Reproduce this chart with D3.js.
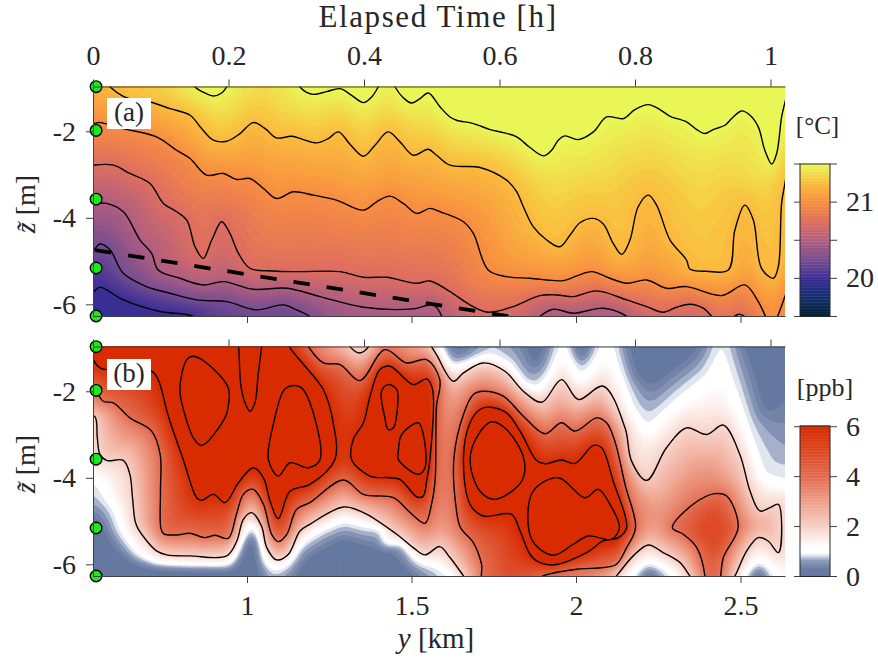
<!DOCTYPE html>
<html>

<head>
  <meta charset="utf-8">
  <script src="https://cdnjs.cloudflare.com/ajax/libs/d3/7.8.5/d3.min.js"></script>
  <style>
    html, body { margin: 0; padding: 0; background: #fff; }
    svg { display: block; }
    text { font-family: "Liberation Serif", serif; fill: #262626; }
  </style>
</head>

<body>
  <svg></svg>

  <script>
    // axis ticks
    var timeTicks = [0, 0.2, 0.4, 0.6, 0.8, 1];
    var distTicks = [1, 1.5, 2, 2.5];
    var depthTicks = [-6, -4, -2];
    var tempTicks = [19.5, 20, 20.5, 21, 21.5];
    var tempTickLabels = [20, 21];
    var ppbTicks = [0, 2, 4, 6];

    // sensor depths [m] and the dashed track [km, m]
    var sensorDepths = [-0.97, -1.98, -3.57, -5.16, -6.27];
    var sensorDist = 0.5413;
    var trackDist = [0.538, 1.814];
    var trackDepth = [-4.745, -6.3];

    // colormaps
    var tempStops = [19.5, 19.75, 20, 20.25, 20.5, 20.75, 21, 21.25, 21.5];
    var tempColors = ["#03222f", "#132f6e", "#3b2f97", "#7a4e90", "#b25f80", "#df6f5e", "#f88f40", "#fbbd3e", "#e8fb58"];
    var ppbStops = [0, 0.25, 0.45, 0.65, 0.8, 0.95, 1.2, 2, 3, 4, 5, 6];
    var ppbColors = ["#6478a0", "#6478a0", "#7787ab", "#8f9dbc", "#d0d8e6", "#ffffff", "#ffffff", "#f7d0c6", "#ee9f8a", "#e36c50", "#dd4a25", "#d92b00"];

    // isotherms: [distance km, depth m], warmer above the line
    var iso2150 = [[0.49,-0.7],[0.817,-0.7],[0.842,-0.976],[0.872,-1.115],[0.898,-1.184],[0.923,-1.115],[0.938,-0.976],[0.958,-0.7],[1.141,-0.7],[1.161,-0.976],[1.181,-1.1],[1.202,-1.146],[1.242,-1.084],[1.283,-1.015],[1.318,-1.169],[1.354,-1.338],[1.379,-1.207],[1.399,-0.976],[1.419,-0.7],[1.435,-0.7],[1.45,-0.976],[1.475,-1.223],[1.5,-1.346],[1.526,-1.246],[1.551,-1.115],[1.587,-1.438],[1.617,-1.669],[1.637,-1.745],[1.688,-1.822],[1.739,-1.961],[1.779,-2.03],[1.82,-2.13],[1.86,-2.376],[1.901,-2.568],[1.926,-2.438],[1.946,-2.207],[1.966,-2.107],[2.007,-2.192],[2.053,-2.015],[2.093,-1.669],[2.144,-1.707],[2.179,-1.499],[2.22,-1.384],[2.255,-1.499],[2.286,-1.653],[2.336,-1.784],[2.367,-1.961],[2.392,-2.053],[2.417,-1.961],[2.453,-1.861],[2.473,-1.707],[2.503,-1.53],[2.529,-1.63],[2.554,-1.899],[2.574,-2.438],[2.595,-2.76],[2.61,-2.515],[2.625,-1.669],[2.635,-1.338],[2.65,-0.9]];
    var iso2125 = [[0.49,-0.7],[0.553,-0.7],[0.584,-0.976],[0.624,-1.192],[0.665,-1.284],[0.705,-1.323],[0.766,-1.476],[0.827,-1.63],[0.862,-1.938],[0.898,-2.207],[0.938,-2.23],[0.979,-2.053],[1.019,-1.799],[1.055,-1.938],[1.09,-2.153],[1.136,-2.115],[1.171,-2.192],[1.212,-2.268],[1.247,-2.168],[1.278,-2.015],[1.313,-2.299],[1.354,-2.576],[1.389,-2.322],[1.429,-2.015],[1.465,-2.245],[1.506,-2.553],[1.551,-2.415],[1.576,-2.553],[1.617,-2.784],[1.708,-2.837],[1.789,-3.13],[1.82,-3.399],[1.84,-3.745],[1.87,-4.206],[1.911,-4.514],[1.951,-4.668],[1.982,-4.399],[2.012,-4.114],[2.053,-4.014],[2.083,-4.145],[2.113,-4.591],[2.139,-4.845],[2.164,-4.514],[2.189,-3.745],[2.22,-3.476],[2.245,-3.706],[2.286,-4.514],[2.336,-4.975],[2.346,-5.183],[2.397,-5.237],[2.463,-5.206],[2.483,-4.283],[2.513,-3.706],[2.539,-4.052],[2.564,-5.168],[2.6,-5.398],[2.615,-5.129],[2.625,-3.668],[2.635,-3.207],[2.65,-2.515]];
    var iso2100 = [[0.492,-1.861],[0.533,-1.822],[0.553,-1.799],[0.624,-1.938],[0.725,-2.13],[0.786,-2.438],[0.827,-2.63],[0.877,-3.014],[0.928,-2.976],[0.969,-3.114],[1.009,-3.091],[1.05,-3.322],[1.09,-3.553],[1.141,-3.399],[1.202,-3.476],[1.272,-3.591],[1.354,-3.822],[1.394,-3.63],[1.434,-3.499],[1.475,-3.668],[1.516,-3.899],[1.556,-3.783],[1.587,-3.86],[1.658,-4.091],[1.688,-4.36],[1.733,-5.206],[1.789,-5.36],[1.86,-5.398],[1.962,-5.452],[2.002,-5.344],[2.048,-5.244],[2.103,-5.398],[2.154,-5.514],[2.215,-5.437],[2.275,-5.629],[2.336,-5.591],[2.443,-5.798],[2.513,-5.552],[2.554,-5.936],[2.579,-6.32],[2.595,-6.51],[2.61,-6.32],[2.635,-5.821],[2.65,-5.51]];
    var iso2075 = [[0.492,-2.86],[0.533,-2.784],[0.594,-2.784],[0.644,-2.976],[0.705,-3.207],[0.746,-3.668],[0.786,-3.86],[0.817,-4.053],[0.842,-4.668],[0.867,-4.937],[0.893,-4.514],[0.923,-4.091],[0.948,-4.36],[0.974,-4.822],[1.009,-5.168],[1.08,-5.229],[1.151,-5.245],[1.283,-5.245],[1.354,-5.375],[1.424,-5.375],[1.516,-5.514],[1.556,-5.46],[1.617,-5.706],[1.678,-6.014],[1.733,-6.183],[1.809,-6.052],[1.89,-5.798],[1.941,-5.783],[1.992,-5.821],[2.063,-5.69],[2.154,-5.898],[2.215,-6.052],[2.265,-6.183],[2.306,-6.067],[2.346,-5.998],[2.387,-6.09],[2.417,-6.32],[2.448,-6.55],[2.473,-6.32],[2.498,-6.23],[2.519,-6.32],[2.544,-6.55],[2.65,-6.55]];
    var iso2050 = [[0.492,-3.706],[0.533,-3.668],[0.573,-3.668],[0.624,-3.86],[0.675,-4.514],[0.71,-4.822],[0.73,-5.206],[0.796,-5.398],[0.867,-5.552],[0.928,-5.475],[1.019,-5.652],[1.121,-5.629],[1.222,-5.821],[1.354,-6.067],[1.505,-6.106],[1.566,-6.013],[1.592,-6.28],[1.597,-6.55],[1.86,-6.55],[1.89,-6.28],[1.931,-6.113],[1.992,-6.206],[2.083,-6.09],[2.154,-6.28],[2.184,-6.55],[2.65,-6.55]];
    var iso2025 = [[0.492,-4.822],[0.533,-4.745],[0.553,-4.606],[0.584,-4.745],[0.624,-5.283],[0.695,-5.591],[0.766,-5.744],[0.847,-5.898],[0.938,-5.937],[1.029,-6.129],[1.11,-6.013],[1.151,-6.129],[1.191,-6.28],[1.222,-6.55],[2.65,-6.55]];
    var iso2000 = [[0.492,-5.744],[0.533,-5.706],[0.553,-5.606],[0.624,-5.898],[0.735,-6.167],[0.837,-6.28],[0.867,-6.55],[2.65,-6.55]];

    // concentration isolines: closed rings, above the level inside
    var ppb2Rings = [
      [[0.513,-2.537],[0.538,-2.591],[0.545,-3.076],[0.553,-3.46],[0.573,-3.598],[0.624,-3.598],[0.644,-3.921],[0.652,-4.46],[0.66,-5],[0.67,-5.19],[0.725,-5.69],[0.756,-5.782],[0.827,-5.805],[0.938,-5.805],[0.969,-5.46],[0.989,-4.96],[1.014,-4.806],[1.044,-5.113],[1.06,-5.613],[1.09,-5.898],[1.126,-5.767],[1.161,-5.229],[1.191,-5.075],[1.293,-4.675],[1.354,-4.806],[1.455,-5.306],[1.505,-5.613],[1.541,-5.782],[1.586,-5.59],[1.617,-5.844],[1.658,-6.267],[1.673,-6.42],[2.103,-6.42],[2.123,-6.267],[2.174,-5.805],[2.22,-5.552],[2.265,-5.729],[2.316,-5.96],[2.346,-6.267],[2.362,-6.42],[2.468,-6.42],[2.483,-6.267],[2.519,-5.69],[2.554,-5.383],[2.584,-5.46],[2.615,-5.729],[2.625,-5.075],[2.615,-4.613],[2.59,-4.69],[2.559,-4.767],[2.529,-4.306],[2.498,-3.46],[2.448,-2.783],[2.397,-3],[2.336,-2.845],[2.275,-3.306],[2.215,-4.06],[2.169,-3.614],[2.149,-2.845],[2.083,-1.883],[2.007,-2.191],[1.956,-1.73],[1.896,-2.253],[1.84,-1.999],[1.784,-1.537],[1.718,-1.345],[1.658,-1.576],[1.627,-1.768],[1.576,-1.153],[1.561,-0.968],[1.551,-0.8],[1.369,-0.8],[1.369,-0.968],[1.343,-1.114],[1.313,-0.968],[1.303,-0.8],[0.492,-0.8],[0.492,-2.23]]
    ];
    var ppb4Rings = [
      [[0.492,-0.8],[0.492,-1.845],[0.533,-1.922],[0.563,-2.23],[0.594,-2.268],[0.644,-2.614],[0.71,-2.922],[0.736,-3.46],[0.737,-4.306],[0.738,-5.152],[0.746,-5.29],[0.786,-5.321],[0.827,-5.283],[0.872,-5.383],[0.903,-5.329],[0.943,-5.398],[0.968,-4.844],[0.989,-4.383],[1.019,-4.267],[1.05,-4.613],[1.075,-5.306],[1.095,-5.475],[1.121,-5.306],[1.151,-4.729],[1.191,-4.575],[1.293,-4.052],[1.354,-4.383],[1.445,-4.46],[1.495,-4.798],[1.541,-5.052],[1.562,-4.567],[1.572,-4.037],[1.574,-3],[1.576,-2.345],[1.586,-1.73],[1.546,-1.268],[1.485,-1.345],[1.419,-1.038],[1.343,-1.753],[1.283,-1.384],[1.232,-1.345],[1.186,-0.96],[1.176,-0.8]],
      [[1.718,-6.42],[1.713,-5.998],[1.688,-5.498],[1.649,-5.152],[1.637,-4.767],[1.629,-3.537],[1.658,-2.537],[1.688,-2.076],[1.718,-2],[1.779,-2.114],[1.84,-2.576],[1.906,-2.983],[1.956,-2.729],[1.997,-2.922],[2.063,-2.614],[2.093,-2.729],[2.118,-3.152],[2.149,-4.152],[2.181,-5.152],[2.154,-5.613],[2.123,-5.998],[2.083,-6.075],[2.002,-6.113],[1.9,-6.267],[1.87,-6.42]],
      [[2.293,-5.152],[2.356,-4.613],[2.422,-4.367],[2.458,-4.421],[2.493,-5.136],[2.448,-5.844],[2.44,-6.267],[2.438,-6.42],[2.392,-6.42],[2.392,-6.267],[2.367,-5.613],[2.326,-5.306]]
    ];
    var ppb6Rings = [
      [[1.12,-0.8],[1.131,-0.999],[1.181,-1.46],[1.232,-1.96],[1.262,-2.729],[1.267,-3.575],[1.191,-4.152],[1.131,-4.306],[1.095,-4.944],[1.07,-4.536],[1.05,-4],[1.019,-3.768],[0.974,-4.114],[0.933,-4.575],[0.898,-4.383],[0.862,-4.521],[0.847,-4.46],[0.806,-3.575],[0.761,-2.576],[0.73,-1.73],[0.71,-1.537],[0.573,-1.499],[0.553,-1.46],[0.533,-1.268],[0.528,-1.153],[0.492,-1.153],[0.492,-0.8]],
      [[1.318,-3.575],[1.323,-3.114],[1.354,-2.729],[1.374,-2.114],[1.404,-1.499],[1.435,-1.422],[1.505,-1.845],[1.546,-1.714],[1.564,-1.96],[1.556,-3.575],[1.547,-4.037],[1.535,-4.429],[1.517,-4.444],[1.465,-4.037],[1.435,-3.998],[1.374,-3.96]],
      [[1.658,-3.537],[1.678,-2.729],[1.708,-2.422],[1.739,-2.368],[1.789,-2.499],[1.83,-2.922],[1.88,-3.598],[1.906,-3.675],[1.956,-3.59],[1.997,-3.668],[2.053,-3.252],[2.078,-3.306],[2.113,-4.075],[2.154,-5.152],[2.129,-5.383],[2.083,-5.46],[2.032,-5.729],[1.931,-6.013],[1.88,-5.921],[1.86,-5.767],[1.83,-5.229],[1.804,-4.844],[1.718,-4.883],[1.678,-4.613]]
    ];
    var ppb8Rings = [
      [[0.796,-1.96],[0.817,-1.268],[0.837,-1.191],[0.877,-1.345],[0.943,-1.922],[0.943,-2.345],[0.933,-2.614],[0.862,-3.252],[0.837,-3.076],[0.811,-2.537]],
      [[0.968,-0.8],[0.974,-0.968],[0.981,-1.845],[0.994,-2.268],[1.009,-2.46],[1.024,-2.268],[1.034,-1.614],[1.045,-0.968],[1.05,-0.8]],
      [[1.065,-3.575],[1.08,-2.768],[1.11,-1.999],[1.126,-1.891],[1.166,-1.922],[1.222,-3.575],[1.186,-3.768],[1.131,-3.652],[1.095,-3.96]],
      [[1.409,-1.999],[1.429,-1.845],[1.455,-1.96],[1.455,-2.537],[1.445,-2.845],[1.429,-2.883],[1.419,-2.614]],
      [[1.46,-3.383],[1.47,-3],[1.521,-2.729],[1.536,-3],[1.541,-3.768],[1.521,-3.921],[1.46,-3.575]],
      [[1.678,-3.575],[1.703,-3],[1.744,-2.706],[1.789,-2.883],[1.842,-3.575],[1.835,-4.075],[1.754,-4.498],[1.708,-4.306]],
      [[1.855,-5.113],[1.87,-4.306],[1.946,-3.998],[2.027,-4.46],[2.068,-4.267],[2.103,-4.613],[2.132,-5.152],[2.108,-5.421],[2.037,-5.344],[1.992,-5.536],[1.931,-5.79],[1.875,-5.536]]
    ];

    // levels that only shape the colour field, these have no line in the reference
    var ppb5Rings = [
      [[2.367,-5.228],[2.422,-4.767],[2.458,-5.228],[2.422,-5.69]]
    ];
    var ppb1Rings = [
      [[0.492,-4.075],[0.538,-4.075],[0.563,-4.46],[0.594,-4.767],[0.614,-5.229],[0.665,-5.767],[0.725,-6.013],[0.827,-6.036],[0.938,-6.036],[0.968,-5.844],[0.989,-5.383],[0.999,-5.152],[1.014,-5.09],[1.029,-5.152],[1.039,-5.46],[1.05,-5.921],[1.08,-6.136],[1.121,-6.036],[1.161,-5.536],[1.222,-5.229],[1.293,-4.998],[1.354,-5.113],[1.445,-5.152],[1.475,-5.46],[1.516,-5.921],[1.576,-6.075],[1.627,-6.305],[1.647,-6.42],[2.154,-6.42],[2.174,-6.267],[2.22,-5.96],[2.265,-6.113],[2.296,-6.305],[2.316,-6.42],[2.498,-6.42],[2.513,-6.267],[2.554,-5.921],[2.59,-6.151],[2.605,-6.42],[2.655,-6.42],[2.655,-4.114],[2.635,-4.075],[2.569,-3.921],[2.529,-2.922],[2.473,-1.537],[2.453,-0.968],[2.448,-0.8],[2.435,-0.8],[2.432,-0.968],[2.397,-1.576],[2.306,-2.153],[2.215,-2.845],[2.174,-2.383],[2.134,-1.46],[2.118,-0.968],[2.113,-0.8],[2.073,-0.8],[2.068,-0.968],[2.053,-1.23],[2.012,-1.691],[1.977,-0.968],[1.972,-0.8],[1.951,-0.8],[1.946,-0.968],[1.916,-1.614],[1.885,-1.96],[1.84,-1.845],[1.799,-1.384],[1.739,-1.153],[1.658,-1.384],[1.617,-1.46],[1.587,-0.968],[1.581,-0.8],[0.492,-0.8]]
    ];
    var ppbLowRings = [
      [[0.4,0],[2.8,0],[2.8,-7],[0.4,-7]],
      [[0.492,-5],[0.538,-5],[0.573,-5.46],[0.604,-5.806],[0.665,-6.075],[0.938,-6.167],[0.968,-6.19],[1.004,-5.46],[1.024,-5.46],[1.029,-6.074],[1.029,-6.42],[0.492,-6.42]],
      [[1.141,-6.42],[1.191,-5.92],[1.293,-5.5],[1.364,-5.69],[1.434,-5.767],[1.48,-6.167],[1.516,-6.42]],
      [[2.205,-6.42],[2.22,-6.2],[2.245,-6.42]],
      [[2.54,-6.42],[2.554,-6.2],[2.57,-6.42]],
      [[1.617,-0.8],[1.642,-1.038],[1.673,-0.8]],
      [[1.86,-0.8],[1.88,-1.268],[1.901,-0.8]],
      [[1.997,-0.8],[2.014,-1.153],[2.037,-0.8]],
      [[2.164,-0.8],[2.194,-1.537],[2.225,-1.73],[2.286,-1.384],[2.356,-0.999],[2.367,-0.8]],
      [[2.518,-0.8],[2.554,-1.537],[2.584,-2.345],[2.63,-1.845],[2.655,-1.845],[2.655,-0.8]]
    ];

    var svgWidth = 878;
    var svgHeight = 665;
    var svg = d3.select("svg").attr("width", svgWidth).attr("height", svgHeight);

    var left = 93, right = 785;
    var topA = 86.5, botA = 316;
    var topB = 346.5, botB = 576;

    var xScale = d3.scaleLinear().domain([0.5319, 2.6353]).range([left, right]);
    var tScale = d3.scaleLinear().domain([0, 1.0214]).range([left, right]);
    var zScaleA = d3.scaleLinear().domain([-6.27, -0.965]).range([botA, topA]);
    var zScaleB = d3.scaleLinear().domain([-6.27, -0.965]).range([botB, topB]);

    var tempColor = d3.scaleLinear().domain(tempStops).range(tempColors).clamp(true);
    var ppbColor = d3.scaleLinear().domain(ppbStops).range(ppbColors).clamp(true);

    var defs = svg.append("defs");

    // distance of a point to a segment, squared
    function segDist2(px, py, s) {
      var dx = s[2] - s[0], dy = s[3] - s[1];
      var len = dx * dx + dy * dy;
      var u = len > 0 ? ((px - s[0]) * dx + (py - s[1]) * dy) / len : 0;
      u = u < 0 ? 0 : u > 1 ? 1 : u;
      var ex = s[0] + u * dx - px, ey = s[1] + u * dy - py;
      return ex * ex + ey * ey;
    }

    // rebuild a value grid from the isolines: between two levels the value goes
    // with the distances to both. layers = [{level, polys}] ascending
    function buildField(layers, zScale, step) {
      var y0 = zScale.range()[1], y1 = zScale.range()[0];
      var nx = Math.ceil((right - left) / step) + 1;
      var ny = Math.ceil((y1 - y0) / step) + 1;

      layers.forEach(function(layer) {
        layer.pixPolys = layer.polys.map(function(p) {
          return p.map(function(d) { return [xScale(d[0]), zScale(d[1])]; });
        });
        layer.segs = [];
        layer.pixPolys.forEach(function(p) {
          p.forEach(function(a, i) {
            var b = p[(i + 1) % p.length];
            var inA = a[0] >= left && a[0] <= right && a[1] >= y0 && a[1] <= y1;
            var inB = b[0] >= left && b[0] <= right && b[1] >= y0 && b[1] <= y1;
            if (inA || inB) layer.segs.push([a[0], a[1], b[0], b[1]]);
          });
        });
      });

      var values = new Float64Array(nx * ny);
      for (var j = 0; j < ny; j++) {
        for (var i = 0; i < nx; i++) {
          var px = left + i * step, py = y0 + j * step;
          var floor = -1;
          for (var k = layers.length - 1; k >= 0 && floor < 0; k--) {
            var inside = false;
            layers[k].pixPolys.forEach(function(p) {
              if (d3.polygonContains(p, [px, py])) inside = !inside;
            });
            if (inside) floor = k;
          }
          var v;
          if (floor < 0) {
            v = layers[0].level;
          } else {
            var dLow = Infinity, dUp = Infinity, upLevel = null;
            layers[floor].segs.forEach(function(s) {
              var d = segDist2(px, py, s);
              if (d < dLow) dLow = d;
            });
            for (var m = floor + 1; m < layers.length; m++) {
              for (var q = 0; q < layers[m].segs.length; q++) {
                var du = segDist2(px, py, layers[m].segs[q]);
                if (du < dUp) { dUp = du; upLevel = layers[m].level; }
              }
            }
            if (upLevel === null || dLow === Infinity) {
              v = layers[floor].level;
            } else {
              var a = Math.sqrt(dLow), b = Math.sqrt(dUp);
              v = layers[floor].level + (upLevel - layers[floor].level) * a / (a + b);
            }
          }
          values[j * nx + i] = v;
        }
      }
      if (d3.blur2) d3.blur2({data: values, width: nx, height: ny}, 1);
      return {values: values, nx: nx, ny: ny};
    }

    function drawPanel(name, field, thresholds, color, zScale, step) {
      var y0 = zScale.range()[1], y1 = zScale.range()[0];

      defs.append("clipPath").attr("id", "clip-" + name)
        .append("rect").attr("x", left).attr("y", y0)
        .attr("width", right - left).attr("height", y1 - y0);

      var g = svg.append("g").attr("clip-path", "url(#clip-" + name + ")");

      g.append("rect").attr("x", left).attr("y", y0)
        .attr("width", right - left).attr("height", y1 - y0)
        .attr("fill", color(thresholds[0]));

      var contours = d3.contours().size([field.nx, field.ny]).thresholds(thresholds)(Array.from(field.values));
      var toPixels = d3.geoTransform({
        point: function(x, y) {
          this.stream.point(left + (x - 0.5) * step, y0 + (y - 0.5) * step);
        }
      });
      var path = d3.geoPath(toPixels);

      g.selectAll("path.band").data(contours).enter().append("path")
        .attr("class", "band")
        .attr("d", path)
        .attr("fill", function(d) { return color(d.value); });

      return g;
    }

    function drawAxes(zScale, showTimeLabels, showDistLabels) {
      var y0 = zScale.range()[1], y1 = zScale.range()[0];

      var topAxis = d3.axisTop(tScale).tickValues(timeTicks).tickSize(7).tickSizeOuter(0).tickPadding(15)
        .tickFormat(showTimeLabels ? function(d) { return d; } : "");
      var bottomAxis = d3.axisBottom(xScale).tickValues(distTicks).tickSize(7).tickSizeOuter(0).tickPadding(12)
        .tickFormat(showDistLabels ? function(d) { return d; } : "");
      var leftAxis = d3.axisLeft(zScale).tickValues(depthTicks).tickSize(7).tickSizeOuter(0).tickPadding(10)
        .tickFormat(function(d) { return String(d); });

      var axes = [
        svg.append("g").attr("transform", "translate(0," + y0 + ")").call(topAxis),
        svg.append("g").attr("transform", "translate(0," + y1 + ")").call(bottomAxis),
        svg.append("g").attr("transform", "translate(" + left + ",0)").call(leftAxis)
      ];
      axes.forEach(function(ax) {
        ax.selectAll("path.domain").attr("stroke", "#404040").attr("stroke-width", 1);
        ax.selectAll(".tick line").attr("stroke", "#404040").attr("stroke-width", 1);
        ax.selectAll("text").attr("font-size", 28).attr("font-family", "Liberation Serif").attr("fill", "#262626");
      });
    }

    function drawSensors(zScale) {
      svg.append("g").selectAll("circle").data(sensorDepths).enter().append("circle")
        .attr("cx", xScale(sensorDist))
        .attr("cy", function(d) { return zScale(d); })
        .attr("r", 5.8)
        .attr("fill", "#1fe81f")
        .attr("stroke", "#000")
        .attr("stroke-width", 1.4);
    }

    function drawTag(label, yTop) {
      svg.append("rect").attr("x", 107).attr("y", yTop).attr("width", 44).attr("height", 31).attr("fill", "#fff");
      svg.append("text").attr("x", 129).attr("y", yTop + 22.5).attr("text-anchor", "middle")
        .attr("font-size", 27).text(label);
    }

    function drawDepthLabel(cy) {
      var t = svg.append("text")
        .attr("transform", "translate(35," + cy + ") rotate(-90)")
        .attr("text-anchor", "middle").attr("font-size", 28);
      t.append("tspan").attr("font-style", "italic").text("z\u0303");
      t.append("tspan").text(" [m]");
    }

    function drawColorbar(yTop, yBot, domain, color, ticks, labels) {
      var x0 = 800, x1 = 830;
      var cScale = d3.scaleLinear().domain(domain).range([yBot, yTop]);
      var n = 100;
      var stepV = (domain[1] - domain[0]) / n;
      var cells = d3.range(n).map(function(i) { return domain[0] + i * stepV; });

      svg.append("g").selectAll("rect").data(cells).enter().append("rect")
        .attr("x", x0).attr("width", x1 - x0)
        .attr("y", function(d) { return cScale(d + stepV) - 0.4; })
        .attr("height", function(d) { return cScale(d) - cScale(d + stepV) + 0.4; })
        .attr("fill", function(d) { return color(d + stepV / 2); });

      svg.append("rect").attr("x", x0).attr("y", yTop).attr("width", x1 - x0).attr("height", yBot - yTop)
        .attr("fill", "none").attr("stroke", "#262626").attr("stroke-width", 1);

      var tickG = svg.append("g").selectAll("g").data(ticks).enter().append("g");
      tickG.append("line").attr("x1", x0 - 6).attr("x2", x0)
        .attr("y1", function(d) { return cScale(d); }).attr("y2", function(d) { return cScale(d); })
        .attr("stroke", "#404040");
      tickG.append("line").attr("x1", x1).attr("x2", x1 + 7)
        .attr("y1", function(d) { return cScale(d); }).attr("y2", function(d) { return cScale(d); })
        .attr("stroke", "#404040");

      svg.append("g").selectAll("text").data(labels).enter().append("text")
        .attr("x", 846).attr("y", function(d) { return cScale(d) + 9; })
        .attr("font-size", 28)
        .text(function(d) { return d; });
    }

    // panel (a), temperature
    var isoLines = [iso2000, iso2025, iso2050, iso2075, iso2100, iso2125, iso2150];
    var isoLevels = [20, 20.25, 20.5, 20.75, 21, 21.25, 21.5];
    var tempLayers = isoLines.map(function(line, i) {
      return {level: isoLevels[i], polys: [line.concat([[2.9, 4], [0.3, 4]])]};
    });
    var stepA = 3;
    var fieldA = buildField(tempLayers, zScaleA, stepA);
    var gA = drawPanel("a", fieldA, d3.range(19.5, 21.5, 0.03), tempColor, zScaleA, stepA);

    var openLine = d3.line()
      .x(function(d) { return xScale(d[0]); })
      .y(function(d) { return zScaleA(d[1]); })
      .curve(d3.curveCatmullRom.alpha(0.5));

    gA.selectAll("path.iso").data(isoLines).enter().append("path")
      .attr("class", "iso")
      .attr("d", openLine)
      .attr("fill", "none").attr("stroke", "#000").attr("stroke-width", 1.4);

    gA.append("path")
      .datum(trackDist.map(function(d, i) { return [d, trackDepth[i]]; }))
      .attr("d", d3.line().x(function(d) { return xScale(d[0]); }).y(function(d) { return zScaleA(d[1]); }))
      .attr("fill", "none").attr("stroke", "#000").attr("stroke-width", 3.8)
      .attr("stroke-dasharray", "16.5 17");

    // panel (b), concentration
    var ppbLayers = [
      {level: 0.25, polys: ppbLowRings},
      {level: 1, polys: ppb1Rings},
      {level: 2, polys: ppb2Rings},
      {level: 4, polys: ppb4Rings},
      {level: 5, polys: ppb5Rings},
      {level: 6, polys: ppb6Rings},
      {level: 8, polys: ppb8Rings}
    ];
    var stepB = 3;
    var fieldB = buildField(ppbLayers, zScaleB, stepB);
    var ppbThresholds = [0.25, 0.4, 0.55, 0.7, 0.85].concat(d3.range(1, 6.01, 0.1));
    var gB = drawPanel("b", fieldB, ppbThresholds, ppbColor, zScaleB, stepB);

    var ringLine = d3.line()
      .x(function(d) { return xScale(d[0]); })
      .y(function(d) { return zScaleB(d[1]); })
      .curve(d3.curveCatmullRomClosed.alpha(0.5));

    gB.selectAll("path.ring").data(ppb2Rings.concat(ppb4Rings, ppb6Rings, ppb8Rings)).enter().append("path")
      .attr("class", "ring")
      .attr("d", ringLine)
      .attr("fill", "none").attr("stroke", "#000").attr("stroke-width", 1.4);

    drawSensors(zScaleA);
    drawSensors(zScaleB);
    drawAxes(zScaleA, true, false);
    drawAxes(zScaleB, false, true);

    drawTag("(a)", 98);
    drawTag("(b)", 359);

    drawColorbar(164, 316.5, [19.5, 21.5], tempColor, tempTicks, tempTickLabels);
    drawColorbar(426, 576.5, [0, 6.03], ppbColor, ppbTicks, ppbTicks);

    // titles
    svg.append("text").attr("x", 438).attr("y", 27).attr("text-anchor", "middle")
      .attr("font-size", 31).attr("letter-spacing", 1.6).text("Elapsed Time [h]");
    var xLabel = svg.append("text").attr("x", 436).attr("y", 648).attr("text-anchor", "middle").attr("font-size", 29);
    xLabel.append("tspan").attr("font-style", "italic").text("y");
    xLabel.append("tspan").text(" [km]");
    drawDepthLabel(204);
    drawDepthLabel(464);
    svg.append("text").attr("x", 817.5).attr("y", 134).attr("text-anchor", "middle").attr("font-size", 25).text("[\u00B0C]");
    svg.append("text").attr("x", 825).attr("y", 396).attr("text-anchor", "middle").attr("font-size", 26).text("[ppb]");
  </script>
</body>

</html>
